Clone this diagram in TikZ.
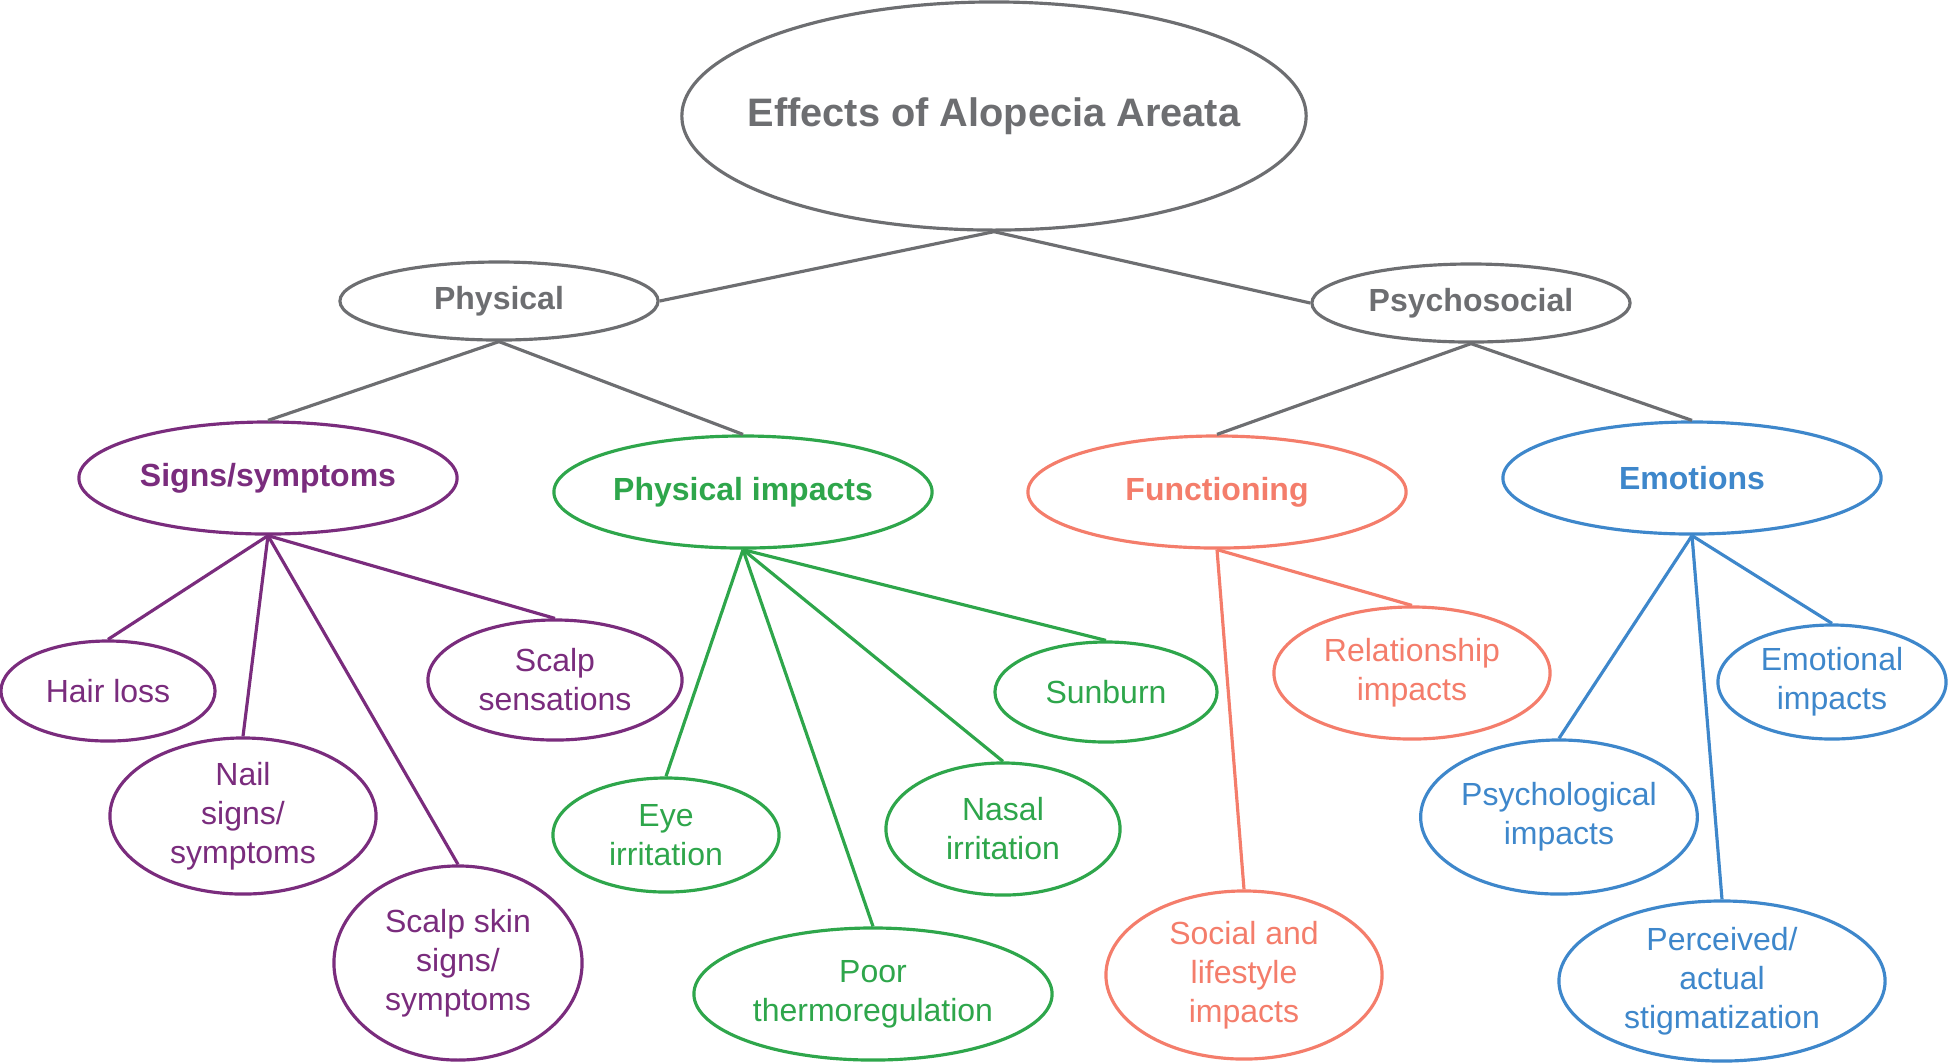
\documentclass[tikz,border=0pt]{standalone}
\usepackage{fontspec}
\setmainfont{Liberation Sans}
\usetikzlibrary{shapes}
\definecolor{aagray}{HTML}{6D6E71}
\definecolor{aapurple}{HTML}{7A2C7D}
\definecolor{aagreen}{HTML}{2EA64B}
\definecolor{aasalmon}{HTML}{F47D6B}
\definecolor{aablue}{HTML}{3E87CB}
\tikzstyle{topic}=[ellipse,draw,line width=0.9pt,fill=white,inner sep=0pt,align=center]
\tikzstyle{root topic}=[topic,draw=aagray,text=aagray,inner xsep=-0.3cm,font=\fontsize{11.3}{14}\selectfont\bfseries]
\tikzstyle{group}=[topic,font=\fontsize{9.1}{11}\selectfont\bfseries]
\tikzstyle{leaf}=[topic,font=\fontsize{9.1}{11.1}\selectfont]
\tikzstyle{edge}=[draw,line width=0.9pt,-]

\begin{document}
\begin{tikzpicture}[x=0.01cm,y=-0.01cm]
    \useasboundingbox (0,0) rectangle (1948,1062);
    % The root and its two branches
    \node[root topic, minimum width=6.24cm, minimum height=2.28cm] (AA) at (994,116) {Effects of Alopecia Areata};
    \foreach \pos/\name/\txt in {{(499,301)/phys/Physical}, {(1471,303)/psycho/Psychosocial}}
        \node[group, draw=aagray, text=aagray, minimum width=3.18cm, minimum height=0.78cm] (\name) at \pos {\txt};

    % Third level
    \foreach \pos/\name/\col/\txt in {{(268,478)/signs/aapurple/{Signs/symptoms}}, {(743,492)/physimp/aagreen/Physical impacts},
            {(1217,492)/func/aasalmon/Functioning}, {(1692,478)/emot/aablue/Emotions}}
        \node[group, draw=\col, text=\col, minimum width=3.78cm, minimum height=1.12cm] (\name) at \pos {\txt};

    % Leaves
    \foreach \pos/\name/\col/\w/\h/\txt in {
            {(108,691)/hair/aapurple/2.14/1.00/Hair loss},
            {(555,680)/scalps/aapurple/2.54/1.20/Scalp\\sensations},
            {(243,816)/nail/aapurple/2.66/1.56/{Nail\\signs/\\symptoms}},
            {(458,963)/skin/aapurple/2.48/1.94/{Scalp skin\\signs/\\symptoms}},
            {(666,835)/eye/aagreen/2.26/1.14/Eye\\irritation},
            {(1106,692)/sun/aagreen/2.22/1.00/Sunburn},
            {(1003,829)/nasal/aagreen/2.34/1.32/Nasal\\irritation},
            {(873,994)/thermo/aagreen/3.58/1.32/Poor\\thermoregulation},
            {(1412,673)/rel/aasalmon/2.76/1.32/Relationship\\impacts},
            {(1244,975)/social/aasalmon/2.76/1.68/Social and\\lifestyle\\impacts},
            {(1832,682)/emoimp/aablue/2.28/1.14/Emotional\\impacts},
            {(1559,817)/psych/aablue/2.74/1.54/Psychological\\impacts},
            {(1722,981)/stigma/aablue/3.26/1.60/{Perceived/\\actual\\stigmatization}}}
        \node[leaf, draw=\col, text=\col, minimum width=\w cm, minimum height=\h cm] (\name) at \pos {\txt};

    % Connect them
    \path[edge, draw=aagray] (AA.south) -- (phys.east);
    \path[edge, draw=aagray] (AA.south) -- (psycho.west);
    \foreach \source/\dest in {phys/signs, phys/physimp, psycho/func, psycho/emot}
        \path[edge, draw=aagray] (\source.south) -- (\dest.north);
    \foreach \source/\dest/\col in {signs/hair/aapurple, signs/nail/aapurple, signs/skin/aapurple, signs/scalps/aapurple,
            physimp/eye/aagreen, physimp/thermo/aagreen, physimp/nasal/aagreen, physimp/sun/aagreen,
            func/rel/aasalmon, func/social/aasalmon,
            emot/psych/aablue, emot/stigma/aablue, emot/emoimp/aablue}
        \path[edge, draw=\col] (\source.south) -- (\dest.north);

\end{tikzpicture}
\end{document}
